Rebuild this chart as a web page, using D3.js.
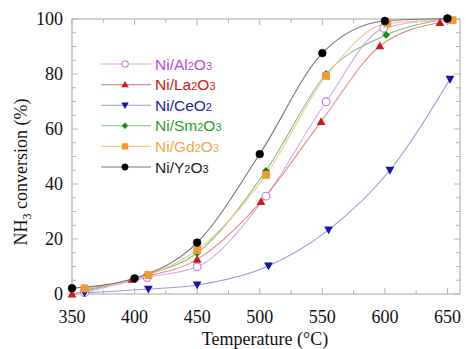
<!DOCTYPE html>
<html>
<head>
<meta charset="utf-8">
<script src="https://cdn.jsdelivr.net/npm/d3@7"></script>
<style>
  body { margin: 0; background: #fff; }
  svg { display: block; }
</style>
</head>
<body>
<div id="wrapper"></div>
<script>
// series values: [temperature, conversion]
const al2o3 = [[360, 0.5], [410, 6], [450, 9.9], [505, 35.6], [553, 69.9], [599, 96.6], [650, 100]];
const la2o3 = [[350, 0], [398, 5.3], [450, 12.6], [501, 33.6], [549, 62.7], [596, 90.2], [644, 98.7]];
const ceo2 = [[360, 0.4], [411, 1.8], [450, 3.3], [507, 10.2], [555, 23.3], [604, 45], [652, 78.1]];
const sm2o3 = [[360, 1.5], [410, 7], [450, 14.9], [505, 44.8], [553, 80], [601, 94.2], [650, 100]];
const gd2o3 = [[360, 2.1], [411, 6.9], [450, 16], [505, 43.3], [553, 79.3], [602, 98.4], [654, 99.6]];
const y2o3 = [[350, 2.1], [400, 5.7], [450, 18.7], [500, 50.9], [550, 87.6], [600, 99.3], [650, 100.2]];

const seriesNames = ["Al2O3", "La2O3", "CeO2", "Sm2O3", "Gd2O3", "Y2O3"];
const xTicks = [350, 400, 450, 500, 550, 600, 650];
const yTicks = [0, 20, 40, 60, 80, 100];

const series = [
    {name: "Al2O3", data: al2o3, marker: "circleOpen", fill: "#fff", stroke: "#c07ae0", line: "#d9a8ec", text: "#b24fd4"},
    {name: "La2O3", data: la2o3, marker: "triUp", fill: "#d01818", stroke: "#d01818", line: "#e58a8a", text: "#d01818"},
    {name: "CeO2", data: ceo2, marker: "triDown", fill: "#1414a8", stroke: "#1414a8", line: "#9a9ad8", text: "#2424a0"},
    {name: "Sm2O3", data: sm2o3, marker: "diamond", fill: "#1a8a1a", stroke: "#1a8a1a", line: "#7cc07c", text: "#2e9a2e"},
    {name: "Gd2O3", data: gd2o3, marker: "square", fill: "#f29a30", stroke: "#f29a30", line: "#f3c894", text: "#f0a850"},
    {name: "Y2O3", data: y2o3, marker: "circle", fill: "#000", stroke: "#000", line: "#777", text: "#222"}
];

const dimension = {
    width: 466,
    height: 349,
    margin: {top: 19, right: 6, bottom: 55, left: 72}
};
dimension.boundedWidth = dimension.width - dimension.margin.left - dimension.margin.right;
dimension.boundedHeight = dimension.height - dimension.margin.top - dimension.margin.bottom;

const x = d3.scaleLinear().domain([350, 660]).range([0, dimension.boundedWidth]);
const y = d3.scaleLinear().domain([0, 100]).range([dimension.boundedHeight, 0]);

const wrapper = d3.select("#wrapper")
    .append("svg")
    .attr("width", dimension.width)
    .attr("height", dimension.height);

const bounds = wrapper.append("g")
    .attr("transform", `translate(${dimension.margin.left},${dimension.margin.top})`);

// frame
bounds.append("rect")
    .attr("width", dimension.boundedWidth)
    .attr("height", dimension.boundedHeight)
    .attr("fill", "none")
    .attr("stroke", "#b4b4b4")
    .attr("stroke-width", 1.2);

// inward ticks on all four sides
const xMinor = d3.range(350, 661, 25);
const yMinor = d3.range(0, 101, 5);
const tickColor = "#b4b4b4";

bounds.append("g").selectAll("line")
    .data(xMinor)
    .enter()
    .append("line")
    .attr("x1", d => x(d)).attr("x2", d => x(d))
    .attr("y1", dimension.boundedHeight)
    .attr("y2", d => dimension.boundedHeight - (d % 50 === 0 ? 6 : 4))
    .attr("stroke", tickColor);

bounds.append("g").selectAll("line")
    .data(xMinor)
    .enter()
    .append("line")
    .attr("x1", d => x(d)).attr("x2", d => x(d))
    .attr("y1", 0)
    .attr("y2", d => (d % 50 === 0 ? 6 : 4))
    .attr("stroke", tickColor);

bounds.append("g").selectAll("line")
    .data(yMinor)
    .enter()
    .append("line")
    .attr("y1", d => y(d)).attr("y2", d => y(d))
    .attr("x1", 0)
    .attr("x2", d => (d % 20 === 0 ? 6 : 4))
    .attr("stroke", tickColor);

bounds.append("g").selectAll("line")
    .data(yMinor)
    .enter()
    .append("line")
    .attr("y1", d => y(d)).attr("y2", d => y(d))
    .attr("x1", dimension.boundedWidth)
    .attr("x2", d => dimension.boundedWidth - (d % 20 === 0 ? 6 : 4))
    .attr("stroke", tickColor);

// tick labels
const serif = "'Liberation Serif', 'DejaVu Serif', serif";

bounds.append("g").selectAll("text")
    .data(xTicks)
    .enter()
    .append("text")
    .attr("x", d => x(d))
    .attr("y", dimension.boundedHeight + 29)
    .attr("text-anchor", "middle")
    .style("font-family", serif)
    .style("font-size", "18px")
    .attr("fill", "#111")
    .text(d => d);

bounds.append("g").selectAll("text")
    .data(yTicks)
    .enter()
    .append("text")
    .attr("x", -9)
    .attr("y", d => y(d) + 6)
    .attr("text-anchor", "end")
    .style("font-family", serif)
    .style("font-size", "18px")
    .attr("fill", "#111")
    .text(d => d);

// axis titles
wrapper.append("text")
    .attr("x", 265)
    .attr("y", 345)
    .attr("text-anchor", "middle")
    .style("font-family", serif)
    .style("font-size", "18px")
    .attr("fill", "#111")
    .text("Temperature (°C)");

const yTitle = wrapper.append("text")
    .attr("transform", "translate(27,172) rotate(-90)")
    .attr("text-anchor", "middle")
    .style("font-family", serif)
    .style("font-size", "18px")
    .attr("fill", "#111");
yTitle.append("tspan").text("NH");
yTitle.append("tspan").attr("dy", 4).style("font-size", "12px").text("3");
yTitle.append("tspan").attr("dy", -4).text(" conversion (%)");

// markers
function drawMarker(g, s, cx, cy, r) {
    if (s.marker === "circle" || s.marker === "circleOpen") {
        g.append("circle").attr("cx", cx).attr("cy", cy).attr("r", r)
            .attr("fill", s.fill).attr("stroke", s.stroke).attr("stroke-width", s.marker === "circleOpen" ? 1.1 : 0.5);
    } else if (s.marker === "square") {
        g.append("rect").attr("x", cx - r).attr("y", cy - r).attr("width", 2 * r).attr("height", 2 * r)
            .attr("fill", s.fill);
    } else if (s.marker === "diamond") {
        g.append("path").attr("d", `M${cx},${cy - r}L${cx + r},${cy}L${cx},${cy + r}L${cx - r},${cy}Z`)
            .attr("fill", s.fill);
    } else if (s.marker === "triUp") {
        g.append("path").attr("d", `M${cx},${cy - r - 0.5}L${cx + r + 0.5},${cy + r - 0.5}L${cx - r - 0.5},${cy + r - 0.5}Z`)
            .attr("fill", s.fill);
    } else if (s.marker === "triDown") {
        g.append("path").attr("d", `M${cx},${cy + r + 0.5}L${cx + r + 0.5},${cy - r + 0.5}L${cx - r - 0.5},${cy - r + 0.5}Z`)
            .attr("fill", s.fill);
    }
}

const line = d3.line()
    .x(d => x(d[0]))
    .y(d => y(d[1]))
    .curve(d3.curveMonotoneX);

const plot = bounds.append("g");
series.forEach(s => {
    plot.append("path")
        .datum(s.data)
        .attr("d", line)
        .attr("fill", "none")
        .attr("stroke", s.line)
        .attr("stroke-width", 1.1);
});
series.forEach(s => {
    const g = plot.append("g");
    s.data.forEach(d => drawMarker(g, s, x(d[0]), y(d[1]), 3.9));
});

// legend
const sans = "'Liberation Sans', Arial, sans-serif";
const legend = wrapper.append("g");
series.forEach((s, i) => {
    const ly = 64 + i * 20.6;
    const g = legend.append("g");
    g.append("line").attr("x1", 101).attr("x2", 151).attr("y1", ly).attr("y2", ly)
        .attr("stroke", s.line).attr("stroke-width", 1.1);
    drawMarker(g, s, 125, ly, 3.2);
    const t = g.append("text")
        .attr("x", 155)
        .attr("y", ly + 5.5)
        .style("font-family", sans)
        .style("font-size", "15.5px")
        .attr("fill", s.text);
    // split name into element symbols and subscript digits
    const parts = ("Ni/" + seriesNames[i]).match(/\d+|\D+/g);
    parts.forEach(p => {
        if (/\d/.test(p)) {
            t.append("tspan").style("font-size", "11px").text(p);
        } else {
            t.append("tspan").text(p);
        }
    });
});
</script>
</body>
</html>
